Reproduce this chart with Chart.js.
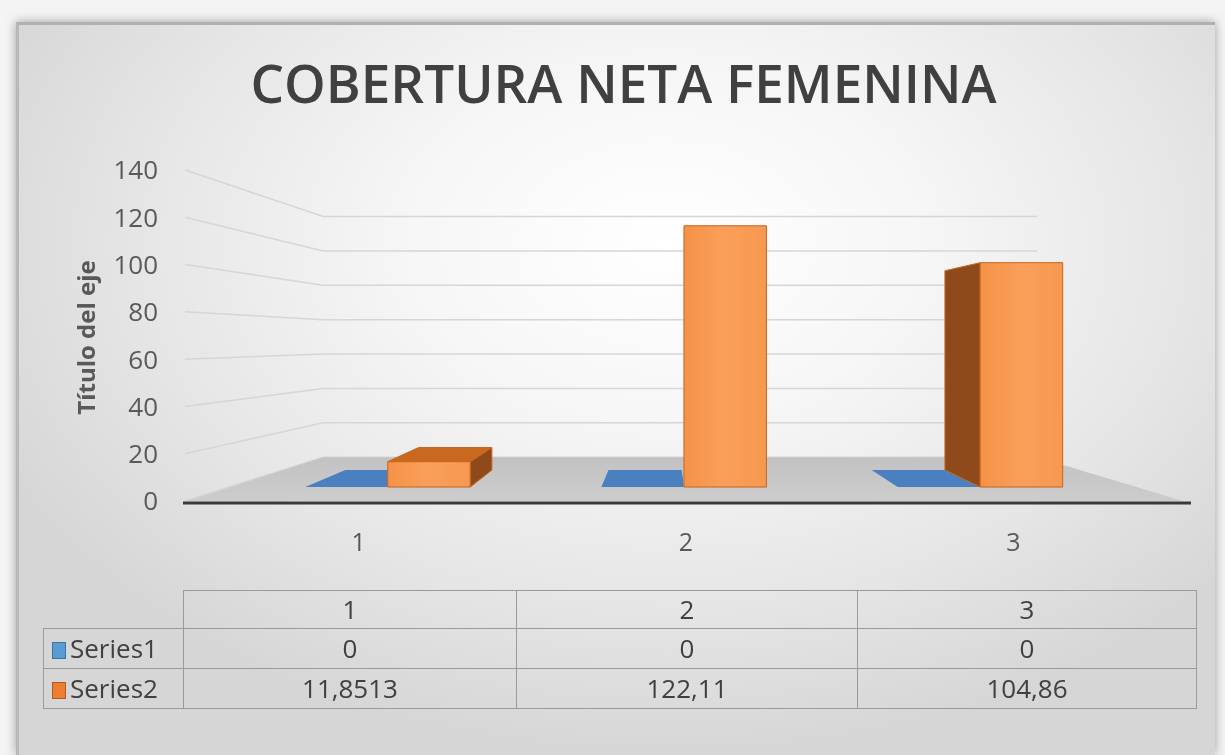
<!DOCTYPE html>
<html>
<head>
<meta charset="utf-8">
<script src="https://cdn.jsdelivr.net/npm/chart.js@4"></script>
<style>
  html, body { margin: 0; padding: 0; }
  body { width: 1225px; height: 755px; background: #f4f4f4; position: relative; overflow: hidden; font-family: 'Open Sans', sans-serif; }
  #frame {
    position: absolute; left: 16px; top: 22px; width: 1196px; height: 730px;
    background: radial-gradient(ellipse 62% 70% at 54% 30%, #ffffff 0%, #f6f6f6 35%, #e6e6e6 70%, #d6d6d6 100%);
    border-top: 3px solid #b0b0b0; border-left: 3px solid #b8b8b8;
    box-shadow: 0 0 10px rgba(0,0,0,0.35);
  }
  #c { position: absolute; left: 0; top: 0; }
  #dt {
    position: absolute; left: 43px; top: 590px; border-collapse: collapse; table-layout: fixed;
    font-family: 'Open Sans', sans-serif; font-size: 26px; color: #404040;
  }
  #dt td { border: 1px solid #9a9a9a; text-align: center; padding: 0; height: 39px; line-height: 39px; white-space: nowrap; }
  #dt tr:first-child td { height: 37px; line-height: 37px; }
  #dt td.blank { border: none; }
  #dt td.leg { text-align: left; padding-left: 8px; }
  .key { display: inline-block; width: 14px; height: 17px; margin-right: 4px; vertical-align: -1px; box-sizing: border-box; }
</style>
</head>
<body>
<div id="frame"></div>
<canvas id="c" width="1225" height="755"></canvas>
<table id="dt">
  <colgroup><col style="width:140px"><col style="width:333px"><col style="width:341px"><col style="width:339px"></colgroup>
  <tbody id="tb"></tbody>
</table>
<script>
// ---- data ----
const categories = ['1', '2', '3'];
const seriesNames = ['Series1', 'Series2'];
const series1 = [0, 0, 0];
const series2 = [11.8513, 122.11, 104.86];
const yTickValues = [0, 20, 40, 60, 80, 100, 120, 140];
const chartTitle = 'COBERTURA NETA FEMENINA';
const yAxisTitle = 'Título del eje';

// ---- styles ----
const palette = [
  { front: '#4f86c6', side: '#3d6ea8', top: '#4a80c0', edge: '#3f74b0', key: '#5b9bd5', keyEdge: '#41719c' },
  { front: '#f79a52', side: '#8f4a1b', top: '#c9681f', edge: '#c8641e', key: '#ed7d31', keyEdge: '#ae5a21' }
];
const D_WALL = 0.273, D_FRONT = 0.095, D_BACK = 0.196;

const pseudo3d = {
  id: 'pseudo3d',
  beforeDatasetsDraw(chart) {
    const { ctx, chartArea: a, scales: { y } } = chart;
    const VX = a.left + 0.478 * (a.right - a.left);
    const VY = a.top + 0.4925 * (a.bottom - a.top);
    const P = (X, Y, d) => [X + d * (VX - X), Y + d * (VY - Y)];
    const poly = (pts, fill, stroke) => {
      ctx.beginPath();
      pts.forEach((p, i) => i ? ctx.lineTo(p[0], p[1]) : ctx.moveTo(p[0], p[1]));
      ctx.closePath();
      if (fill) { ctx.fillStyle = fill; ctx.fill(); }
      if (stroke) { ctx.strokeStyle = stroke; ctx.lineWidth = 1; ctx.stroke(); }
    };
    ctx.save();
    // walls gridlines
    ctx.strokeStyle = '#d6d6d6'; ctx.lineWidth = 1.5;
    y.ticks.forEach(t => {
      const py = y.getPixelForValue(t.value);
      const b = P(a.left, py, D_WALL), c = P(a.right, py, D_WALL);
      ctx.beginPath(); ctx.moveTo(a.left - 10, py - 2); ctx.lineTo(b[0], b[1]); ctx.lineTo(c[0], c[1]); ctx.stroke();
    });
    // floor
    const fy = y.getPixelForValue(0);
    const fl = P(a.left, fy, D_WALL), fr = P(a.right, fy, D_WALL);
    const g = ctx.createLinearGradient(0, fl[1], 0, fy);
    g.addColorStop(0, '#c2c2c2'); g.addColorStop(1, '#cdcdcd');
    poly([[a.left - 8, fy - 2], [a.right + 6, fy - 2], fr, fl], g);
    ctx.strokeStyle = '#3a3a3a'; ctx.lineWidth = 3;
    ctx.beginPath(); ctx.moveTo(a.left - 12, fy); ctx.lineTo(a.right + 14, fy); ctx.stroke();
    // bars
    chart.data.datasets.forEach((ds, i) => {
      const meta = chart.getDatasetMeta(i);
      const col = palette[i];
      meta.data.forEach(el => {
        const { x, y: top, base, width } = el.getProps(['x', 'y', 'base', 'width'], true);
        const L = x - width / 2, R = x + width / 2, T = Math.min(top, base), B = Math.max(top, base);
        const topFace = [P(L, T, D_FRONT), P(R, T, D_FRONT), P(R, T, D_BACK), P(L, T, D_BACK)];
        if (B - T < 0.5) { poly(topFace, col.top); return; }
        let sx = null;
        if (L > VX + 30) sx = L; else if (R < VX - 30) sx = R;
        if (sx !== null) poly([P(sx, T, D_FRONT), P(sx, T, D_BACK), P(sx, B, D_BACK), P(sx, B, D_FRONT)], col.side, col.edge);
        if (T > VY) poly(topFace, col.top, col.edge);
        const fL = P(L, T, D_FRONT), fR = P(R, B, D_FRONT);
        const fg = ctx.createLinearGradient(fL[0], 0, fR[0], 0);
        fg.addColorStop(0, '#f59247'); fg.addColorStop(0.5, '#fa9f5a'); fg.addColorStop(1, '#f6984f');
        poly([P(L, T, D_FRONT), P(R, T, D_FRONT), P(R, B, D_FRONT), P(L, B, D_FRONT)], i === 1 ? fg : col.front, col.edge);
      });
    });
    ctx.restore();
    return false;
  }
};

new Chart(document.getElementById('c'), {
  type: 'bar',
  data: {
    labels: categories,
    datasets: [
      { label: seriesNames[0], data: series1, backgroundColor: palette[0].front },
      { label: seriesNames[1], data: series2, backgroundColor: palette[1].front }
    ]
  },
  options: {
    responsive: false,
    animation: false,
    events: [],
    categoryPercentage: 0.557,
    barPercentage: 1,
    layout: { padding: { left: 70, right: 48, top: 56, bottom: 192 } },
    plugins: {
      legend: { display: false },
      tooltip: { enabled: false },
      title: {
        display: true, text: chartTitle, color: '#404040',
        font: { family: 'Open Sans', size: 53, weight: 600, lineHeight: 1.2 },
        padding: { top: 0, bottom: 52.4 }
      }
    },
    scales: {
      x: {
        grid: { display: false, drawTicks: false },
        border: { display: false },
        ticks: { color: '#595959', font: { family: 'Open Sans', size: 25 }, padding: 26 },
        afterFit(s) { s.height = 60; }
      },
      y: {
        min: 0, max: 140,
        afterBuildTicks(s) { s.ticks = yTickValues.map(v => ({ value: v })); },
        grid: { display: false, drawTicks: false },
        border: { display: false },
        ticks: { color: '#595959', font: { family: 'Open Sans', size: 26 }, padding: 37 },
        title: { display: true, text: yAxisTitle, color: '#595959', font: { family: 'Open Sans', size: 24, weight: 'bold', lineHeight: 1.2 }, padding: { top: 4, bottom: 4 } },
        afterFit(s) { s.width = 125; }
      }
    }
  },
  plugins: [pseudo3d]
});

// ---- data table ----
const fmt = v => String(v).replace('.', ',');
const tb = document.getElementById('tb');
let html = '<tr><td class="blank"></td>' + categories.map(c => '<td>' + c + '</td>').join('') + '</tr>';
[series1, series2].forEach((s, i) => {
  html += '<tr><td class="leg"><span class="key" style="background:' + palette[i].key + ';border:1px solid ' + palette[i].keyEdge + '"></span>' + seriesNames[i] + '</td>' +
    s.map(v => '<td>' + fmt(v) + '</td>').join('') + '</tr>';
});
tb.innerHTML = html;
</script>
</body>
</html>
